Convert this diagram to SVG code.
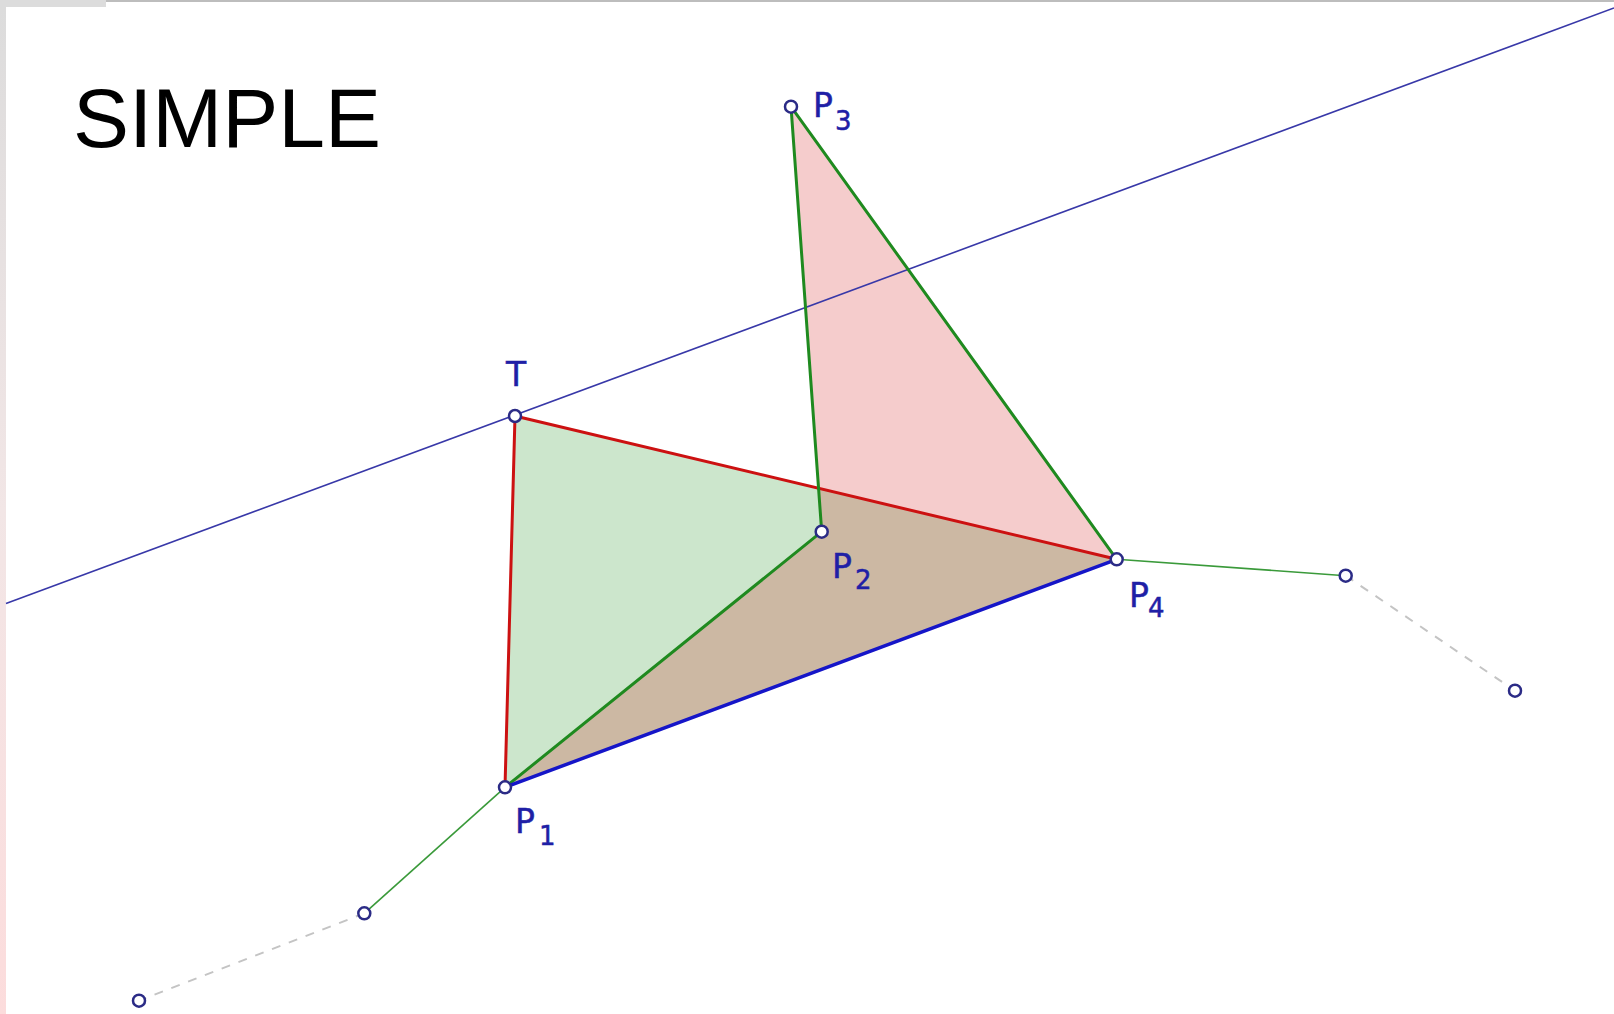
<svg xmlns="http://www.w3.org/2000/svg" width="1614" height="1014" viewBox="0 0 1614 1014">
<defs>
<linearGradient id="edge" x1="0" y1="0" x2="0" y2="1">
<stop offset="0" stop-color="#dcdcdc"/>
<stop offset="0.5" stop-color="#f2e6e6"/>
<stop offset="1" stop-color="#fcdcdc"/>
</linearGradient>
</defs>
<style>
.pt{fill:#fff;stroke:#2b2b86;stroke-width:2.5}
.lbl{font-family:"DejaVu Sans",sans-serif;font-size:33px;fill:#1f1fa6;stroke:#1f1fa6;stroke-width:0.5}
.sub{font-size:26px}
.thin{stroke:#3a9a3a;stroke-width:1.6;fill:none}
.dash{stroke:#c4c4c4;stroke-width:2;stroke-dasharray:9 9;fill:none}
.red{stroke:#cc1111;stroke-width:3;fill:none;stroke-linecap:round}
.grn{stroke:#1f8a1f;stroke-width:3;fill:none;stroke-linecap:round}
.blu{stroke:#1515c8;stroke-width:3.5;fill:none;stroke-linecap:round}
</style>
<rect width="1614" height="1014" fill="#fff"/>
<rect x="0" y="0" width="106" height="7" fill="#dcdcdc"/>
<rect x="106" y="0" width="1508" height="2" fill="#bdbdbd"/>
<rect x="0" y="7" width="6" height="1007" fill="url(#edge)"/>
<text x="73" y="147" font-family="Liberation Sans, Arial, sans-serif" font-size="84" fill="#000">SIMPLE</text>
<g id="fills">
<polygon points="515,416 505,787.3 1116.7,559.3" fill="#008000" fill-opacity="0.2"/>
<polygon points="505,787.3 821.7,531.7 791,106.7 1116.7,559.3" fill="#cc0000" fill-opacity="0.2"/>
</g>
<g id="connectors">
<line x1="6" y1="603.5" x2="1614" y2="8" stroke="#3838a8" stroke-width="1.6"/>
<line class="thin" x1="1116.7" y1="559.3" x2="1345.7" y2="575.7"/>
<line class="thin" x1="505" y1="787.3" x2="364.3" y2="913.3"/>
<line class="dash" x1="1345.7" y1="575.7" x2="1515" y2="690.7"/>
<line class="dash" x1="364.3" y1="913.3" x2="139" y2="1000.7"/>
<line class="red" x1="515" y1="416" x2="505" y2="787.3"/>
<line class="red" x1="515" y1="416" x2="1116.7" y2="559.3"/>
<line class="grn" x1="505" y1="787.3" x2="821.7" y2="531.7"/>
<line class="grn" x1="821.7" y1="531.7" x2="791" y2="106.7"/>
<line class="grn" x1="791" y1="106.7" x2="1116.7" y2="559.3"/>
<line class="blu" x1="505" y1="787.3" x2="1116.7" y2="559.3"/>
</g>
<g id="T"><circle class="pt" cx="515" cy="416" r="6"/><text class="lbl" x="506" y="386">T</text></g>
<g id="P1"><circle class="pt" cx="505" cy="787.3" r="6"/><text class="lbl" x="515" y="833">P<tspan class="sub" x="539" y="845">1</tspan></text></g>
<g id="P2"><circle class="pt" cx="821.7" cy="531.7" r="6"/><text class="lbl" x="832" y="578">P<tspan class="sub" x="855" y="589">2</tspan></text></g>
<g id="P3"><circle class="pt" cx="791" cy="106.7" r="6"/><text class="lbl" x="813" y="117">P<tspan class="sub" x="835" y="130">3</tspan></text></g>
<g id="P4"><circle class="pt" cx="1116.7" cy="559.3" r="6"/><text class="lbl" x="1129" y="607">P<tspan class="sub" x="1148" y="617">4</tspan></text></g>
<g id="Q1"><circle class="pt" cx="1345.7" cy="575.7" r="6"/></g>
<g id="Q2"><circle class="pt" cx="1515" cy="690.7" r="6"/></g>
<g id="Q3"><circle class="pt" cx="364.3" cy="913.3" r="6"/></g>
<g id="Q4"><circle class="pt" cx="139" cy="1000.7" r="6"/></g>
</svg>
